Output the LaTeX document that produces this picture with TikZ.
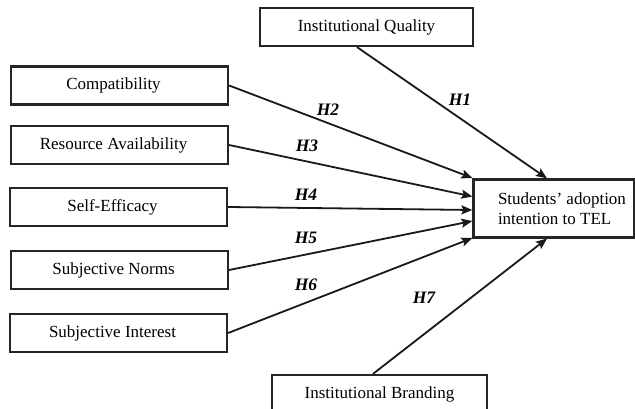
\documentclass[tikz,border=0pt]{standalone}
\usepackage{fontspec}
\setmainfont{Liberation Serif}
\usetikzlibrary{arrows.meta}
\begin{document}
\begin{tikzpicture}[x=1pt,y=-1pt,
  box/.style={draw=black!85, line width=2.2pt, minimum width=217pt, minimum height=38pt, inner sep=0pt, font=\fontsize{17}{20}\selectfont},
  leftbox/.style={box, execute at end node={\hspace{12pt}}},
  link/.style={line width=1.8pt, draw=black!90, -{Stealth[length=11pt,width=9pt,inset=2pt]}},
  hyp/.style={font=\fontsize{17.5}{20}\selectfont\bfseries\itshape, inner sep=0pt}]
\useasboundingbox (0,0) rectangle (635,409);
\node[box, minimum width=213pt] (IQ) at (366.5,27) {Institutional Quality};
\node[leftbox] (CO) at (119.5,85.5) {Compatibility};
\node[leftbox] (RA) at (119.5,145) {Resource Availability};
\node[leftbox] (SE) at (118.5,207) {Self-Efficacy};
\node[leftbox] (SN) at (119.5,270) {Subjective Norms};
\node[leftbox] (SI) at (118.5,333) {Subjective Interest};
\node[box, minimum width=161pt, minimum height=58pt, align=left, xshift=0pt] (ST) at (554,208.5) {\hspace*{16pt}Students' adoption\\\hspace*{16pt}intention to TEL};
\node[box, minimum width=215pt, minimum height=40pt] (IB) at (379.5,395) {\raisebox{5pt}{Institutional Branding}};
\draw[link] ([xshift=-9.5pt]IQ.south) -- ([xshift=-7pt]ST.north);
\draw[link] (CO.east) -- ([yshift=30.5pt]ST.west);
\draw[link] (RA.east) -- ([yshift=12pt]ST.west);
\draw[link] (SE.east) -- ([yshift=-1.5pt]ST.west);
\draw[link] (SN.east) -- ([yshift=-12.5pt]ST.west);
\draw[link] (SI.east) -- ([yshift=-29.5pt]ST.west);
\draw[link] ([xshift=-6.5pt]IB.north) -- ([xshift=-7pt]ST.south);
\node[hyp] (h1) at (460,100) {H1};
\node[hyp] (h2) at (328,110) {H2};
\node[hyp] (h3) at (307,146) {H3};
\node[hyp] (h4) at (306,195) {H4};
\node[hyp] (h5) at (306,238) {H5};
\node[hyp] (h6) at (306,285) {H6};
\node[hyp] (h7) at (424,298) {H7};
\end{tikzpicture}
\end{document}
